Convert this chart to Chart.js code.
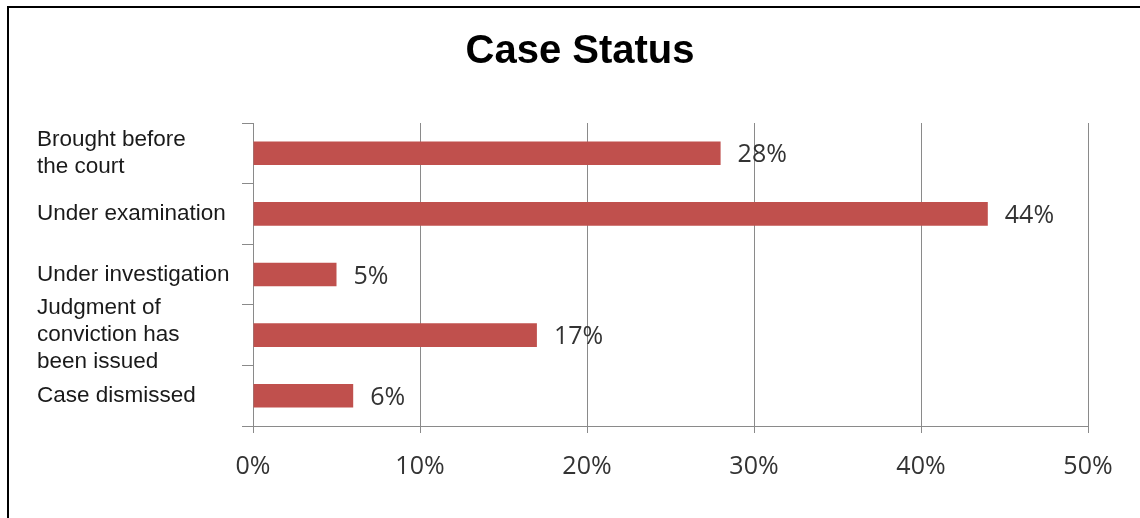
<!DOCTYPE html>
<html>
<head>
<meta charset="utf-8">
<script src="https://cdn.jsdelivr.net/npm/chart.js@4"></script>
<style>
  html, body { margin: 0; padding: 0; background: #fff; }
  #wrap { position: relative; width: 1140px; height: 518px; overflow: hidden; }
  #frame { position: absolute; left: 7px; top: 6px; width: 1200px; height: 600px;
           border-left: 2px solid #000; border-top: 2px solid #000; }
  #chart { position: absolute; left: 0; top: 0; }
</style>
</head>
<body>
<div id="wrap">
  <div id="frame"></div>
  <canvas id="chart" width="1140" height="518"></canvas>
</div>
<script>
const chartTitle = "Case Status";
const categories = [
  ["Brought before", "the court"],
  "Under examination",
  "Under investigation",
  ["Judgment of", "conviction has", "been issued"],
  "Case dismissed",
];
const shares = [28, 44, 5, 17, 6];
const xTicks = [0, 10, 20, 30, 40, 50];

const barColor = "#C0504D";
const gridColor = "#8a8a8a";

// title drawn by hand so it can sit centred over the whole frame
const titlePlugin = {
  id: "caseTitle",
  afterDraw(chart) {
    const { ctx } = chart;
    ctx.save();
    ctx.font = "bold 40px 'Liberation Sans', Arial, sans-serif";
    ctx.fillStyle = "#000";
    ctx.textAlign = "center";
    ctx.textBaseline = "alphabetic";
    ctx.fillText(chartTitle, 580, 63);
    ctx.restore();
  },
};

// percentage labels to the right of each bar
const valueLabels = {
  id: "valueLabels",
  afterDatasetsDraw(chart) {
    const { ctx } = chart;
    const meta = chart.getDatasetMeta(0);
    ctx.save();
    ctx.font = "25px 'Open Sans', sans-serif";
    ctx.fillStyle = "#333";
    ctx.textAlign = "left";
    ctx.textBaseline = "middle";
    meta.data.forEach((bar, i) => {
      ctx.fillText(shares[i] + "%", bar.x + 17, bar.y + 2);
    });
    ctx.restore();
  },
};

const ctx = document.getElementById("chart");

const chart = new Chart(ctx, {
  type: "bar",
  data: {
    labels: categories,
    datasets: [
      {
        data: shares,
        backgroundColor: barColor,
        borderWidth: 0,
        barPercentage: 0.39,
        categoryPercentage: 1,
      },
    ],
  },
  options: {
    indexAxis: "y",
    responsive: false,
    animation: false,
    layout: {
      padding: { left: 37, right: 52, top: 123, bottom: 0 },
    },
    plugins: {
      legend: { display: false },
      tooltip: { enabled: false },
      title: { display: false },
    },
    scales: {
      y: {
        grid: {
          drawOnChartArea: false,
          drawTicks: true,
          tickLength: 11,
          color: gridColor,
        },
        border: { display: true, color: gridColor, width: 1 },
        ticks: {
          autoSkip: false,
          crossAlign: "far",
          color: "#1a1a1a",
          font: { family: "'Liberation Sans', Arial, sans-serif", size: 22.5, lineHeight: 1.2 },
        },
        afterFit(scale) {
          scale.width = 216;
        },
      },
      x: {
        min: xTicks[0],
        max: xTicks[xTicks.length - 1],
        afterBuildTicks(scale) {
          scale.ticks = xTicks.map((v) => ({ value: v }));
        },
        grid: {
          color: gridColor,
          tickLength: 7,
        },
        border: { display: true, color: gridColor, width: 1 },
        ticks: {
          autoSkip: false,
          padding: 19,
          color: "#333",
          font: { family: "'Open Sans', sans-serif", size: 25 },
          callback: (v) => v + "%",
        },
        afterFit(scale) {
          scale.height = 92;
        },
      },
    },
  },
  plugins: [titlePlugin, valueLabels],
});
</script>
</body>
</html>
